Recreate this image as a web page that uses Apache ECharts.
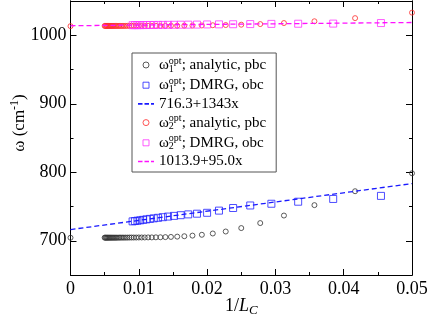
<!DOCTYPE html>
<html><head><meta charset="utf-8">
<script src="https://cdn.jsdelivr.net/npm/echarts@6/dist/echarts.min.js"></script>
<style>html,body{margin:0;padding:0;background:#fff}#c{width:431px;height:319px}</style>
</head><body><div id="c"></div>
<script>
// chain lengths (x = 1/L)
const chainLengthsPbc = [20,24,28,32,36,40,44,48,52,56,60,64,68,72,76,80,84,88,92,96,100,104,108,112,116,120,124,128,132,136,140,144,148,152,156,160,164,168,172,176,180,184,188,192,196,200];
const chainLengthsObc = [22,26,30,34,38,42,46,50,54,58,62,66,70,74,78,82,86,90,94,98,102,106,110];
// omega1 analytic, pbc
const omega1Pbc = [798.5,772.3,752.0,736.8,725.8,718.5,713.5,710.6,708.7,707.5,706.6,706.0,705.6,705.3,705.1,705.0,704.9,
  704.9,704.8,704.8,704.8,704.7,704.7,704.7,704.7,704.6,704.6,704.6,704.6,704.6,704.6,
  704.5,704.5,704.5,704.5,704.5,704.5,704.5,704.5,704.5,704.5,704.5,704.5,704.5,704.5,704.5];
const omega1PbcInf = 704.4;
// omega1 DMRG, obc
const omega1Obc = [765.5,761.0,757.0,754.0,751.5,747.8,744.0,740.8,739.5,738.5,737.3,736.3,735.3,734.4,733.5,732.7,731.9,731.2,730.5,729.8,729.3,728.8,728.3];
// omega2 analytic, pbc
const omega2Pbc = [1033.0,1025.0,1020.4,1017.8,1016.3,1015.4,1014.9,1014.6,1014.3,1014.1,1014.0,1013.9,1013.9,1013.8,1013.8,1013.8,
  1013.7,1013.7,1013.7,1013.7,1013.7,1013.7,1013.7,1013.7,1013.7,1013.7,
  1013.6,1013.6,1013.6,1013.6,1013.6,1013.6,1013.6,1013.6,1013.6,1013.6,1013.6,1013.6,1013.6,1013.6,1013.6,1013.6,1013.6,1013.6,1013.6,1013.6];
const omega2PbcInf = 1013.3;
// omega2 DMRG, obc
const omega2Obc = [1017.8,1017.0,1016.8,1016.6,1016.3,1016.1,1015.9,1015.8,1015.6,1015.5,1015.4,1015.3,1015.2,1015.1,1015.1,1015.0,1015.0,1014.9,1014.9,1014.8,1014.8,1014.8,1014.7];
// linear fits (end points)
const fitX = [0, 0.05];
const fit1Y = [716.3, 783.45];
const fit2Y = [1013.9, 1018.65];
// ticks
const yMajorTicks = [700, 800, 900, 1000];
const yMinorTicks = [750, 850, 950];

const names = ['w1pbc','w1obc','fit1','w2pbc','w2obc','fit2'];
const legendText = {
  w1pbc: '{w|ω}{sub|1}{sup|opt}{t|; analytic, pbc}',
  w1obc: '{w|ω}{sub|1}{sup|opt}{t|; DMRG, obc}',
  fit1: '{t|716.3+1343x}',
  w2pbc: '{w|ω}{sub|2}{sup|opt}{t|; analytic, pbc}',
  w2obc: '{w|ω}{sub|2}{sup|opt}{t|; DMRG, obc}',
  fit2: '{t|1013.9+95.0x}'
};
const FONT = 'Liberation Serif';
const SQUARE = 'path://M0,0H10V10H0Z';
const DASH = 'path://M0,0h4.5v1.6h-4.5zM6.5,0h4.5v1.6h-4.5zM13,0h3v1.6h-3z';
const COLORS = {w1pbc: '#333', w1obc: '#2222ff', fit1: '#1a1aff', w2pbc: '#ff2a2a', w2obc: '#ff33ff', fit2: '#ff11ff'};
const ICONS = {w1pbc: 'circle', w1obc: SQUARE, fit1: DASH, w2pbc: 'circle', w2obc: SQUARE, fit2: DASH};

function pts(Ls, vals, inf) {
  const d = Ls.map((L, i) => [1 / L, vals[i]]);
  if (inf !== undefined) d.unshift([0, inf]);
  return d;
}
function scatter(name, data, symbol, size) {
  return {name, type: 'scatter', data, symbol, symbolSize: size, clip: false,
    itemStyle: {color: 'rgba(0,0,0,0)', borderColor: COLORS[name], borderWidth: 1}};
}
function fit(name, ys) {
  return {name, type: 'line', data: fitX.map((x, i) => [x, ys[i]]), symbol: 'none',
    lineStyle: {color: COLORS[name], width: 1.3, type: [5, 3]}, itemStyle: {color: COLORS[name]}};
}
const axisBase = {type: 'value', splitLine: {show: false},
  axisLine: {show: true, lineStyle: {color: '#000', width: 1}}};

const legendData = names.map(n => {
  const isLine = n.startsWith('fit');
  return {name: n, icon: ICONS[n],
    itemStyle: isLine ? {color: COLORS[n], borderWidth: 0}
                      : {color: 'rgba(0,0,0,0)', borderColor: COLORS[n], borderWidth: 1},
    lineStyle: {width: 0}};
});

const chart = echarts.init(document.getElementById('c'));
chart.setOption({
  animation: false,
  textStyle: {fontFamily: FONT},
  grid: {left: 70.5, right: 19, top: 1, bottom: 44, outerBoundsMode: 'none', containLabel: false},
  xAxis: [
    Object.assign({}, axisBase, {position: 'bottom', min: 0, max: 0.05, interval: 0.01,
      axisTick: {inside: true, length: 6, lineStyle: {color: '#000'}},
      minorTick: {show: true, splitNumber: 2, length: 3, lineStyle: {color: '#000'}},
      axisLabel: {color: '#000', fontSize: 18, fontFamily: FONT, margin: 5,
        formatter: v => String(+v.toFixed(2))},
      name: '{n|1/}{i|L}{s|C}', nameLocation: 'middle', nameGap: 20, nameMoveOverlap: false,
      nameTextStyle: {rich: {
        n: {fontSize: 18, fontFamily: FONT, color: '#000', lineHeight: 22},
        i: {fontSize: 18, fontFamily: FONT, fontStyle: 'italic', color: '#000', lineHeight: 22},
        s: {fontSize: 13, fontFamily: FONT, fontStyle: 'italic', color: '#000', verticalAlign: 'bottom', lineHeight: 13}
      }}}),
    Object.assign({}, axisBase, {position: 'top', min: 0, max: 0.05, interval: 0.01,
      axisTick: {inside: true, length: 6, lineStyle: {color: '#000'}},
      minorTick: {show: true, splitNumber: 2, length: 3, lineStyle: {color: '#000'}},
      axisLabel: {show: false}})
  ],
  yAxis: [
    Object.assign({}, axisBase, {position: 'left', min: 650, max: 1050,
      axisTick: {inside: true, length: 6, customValues: yMajorTicks, lineStyle: {color: '#000'}},
      axisLabel: {color: '#000', fontSize: 18, fontFamily: FONT, margin: 4, customValues: yMajorTicks,
        formatter: v => String(v)},
      name: '{t|ω (cm}{sup|-1}{t|)}', nameLocation: 'middle', nameGap: 40, nameRotate: 90, nameMoveOverlap: false,
      nameTextStyle: {padding: [0, 0, 0, 30], rich: {
        t: {fontSize: 17, fontFamily: FONT, color: '#000', lineHeight: 22},
        sup: {fontSize: 12, fontFamily: FONT, color: '#000', verticalAlign: 'top', lineHeight: 12}
      }}}),
    Object.assign({}, axisBase, {position: 'left', min: 650, max: 1050,
      axisTick: {inside: true, length: 3, customValues: yMinorTicks, lineStyle: {color: '#000'}},
      axisLabel: {show: false, customValues: yMinorTicks}}),
    Object.assign({}, axisBase, {position: 'right', min: 650, max: 1050,
      axisTick: {inside: true, length: 6, customValues: yMajorTicks, lineStyle: {color: '#000'}},
      axisLabel: {show: false, customValues: yMajorTicks}}),
    Object.assign({}, axisBase, {position: 'right', min: 650, max: 1050,
      axisTick: {inside: true, length: 3, customValues: yMinorTicks, lineStyle: {color: '#000'}},
      axisLabel: {show: false, customValues: yMinorTicks}})
  ],
  legend: {
    data: legendData, orient: 'vertical', left: 132, top: 53,
    backgroundColor: '#fff', borderColor: '#555', borderWidth: 1,
    padding: [3, 10, 3, 6], itemGap: 2.2, itemWidth: 16, itemHeight: 6,
    formatter: n => legendText[n],
    textStyle: {rich: {
      w: {fontSize: 15, fontFamily: FONT, color: '#000', lineHeight: 18},
      t: {fontSize: 15, fontFamily: FONT, color: '#000', lineHeight: 18},
      sup: {fontSize: 10, fontFamily: FONT, color: '#000', verticalAlign: 'top', lineHeight: 10},
      sub: {fontSize: 10, fontFamily: FONT, color: '#000', verticalAlign: 'bottom', lineHeight: 10, width: 0}
    }}
  },
  series: [
    scatter('w1pbc', pts(chainLengthsPbc, omega1Pbc, omega1PbcInf), 'circle', 5),
    scatter('w1obc', pts(chainLengthsObc, omega1Obc), 'rect', 7),
    fit('fit1', fit1Y),
    scatter('w2pbc', pts(chainLengthsPbc, omega2Pbc, omega2PbcInf), 'circle', 5),
    scatter('w2obc', pts(chainLengthsObc, omega2Obc), 'rect', 7),
    fit('fit2', fit2Y)
  ]
});
</script></body></html>
